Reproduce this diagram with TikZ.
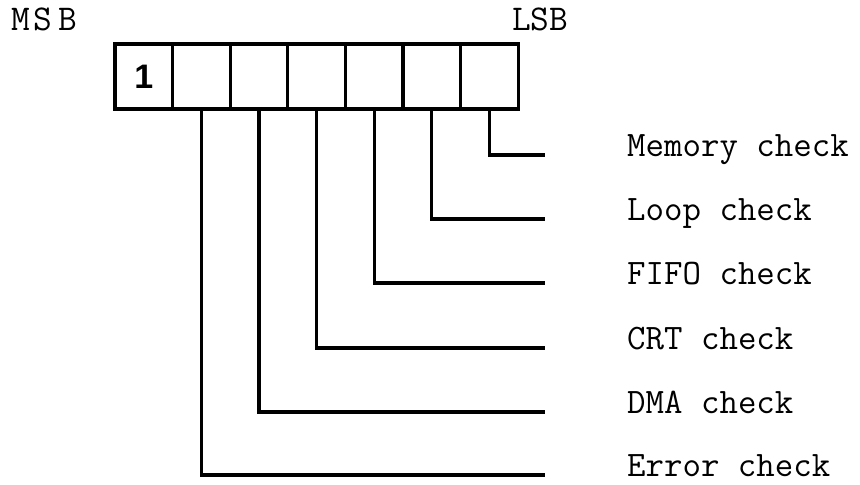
\documentclass[tikz,border=0pt]{standalone}
\usepackage{fontspec}
\newfontfamily\digitfont{Liberation Sans}
\usepackage{tikz}
\usetikzlibrary{positioning}
\tikzset{
  Cell/.style={draw, line width=2.6pt, minimum width=1.728cm, minimum height=1.95cm,
               inner sep=0pt, outer sep=0pt},
  Wire/.style={line width=2.6pt, line join=miter},
  Chk/.style={anchor=base west, inner sep=0pt, font=\ttfamily\fontsize{30.6}{36}\selectfont},
  Bit/.style={anchor=base west, inner sep=0pt, font=\ttfamily\fontsize{31}{36}\selectfont}
}
\begin{document}
\begin{tikzpicture}[x=0.3mm, y=-0.3mm]
  \useasboundingbox (0,0) rectangle (860,484);
  % register
  \node[Cell, font=\digitfont\bfseries\fontsize{29}{32}\selectfont] (b1) at (143.8,76.5) {1};
  \node[Cell] (b2) at (201.4,76.5) {};
  \node[Cell] (b3) at (259.0,76.5) {};
  \node[Cell] (b4) at (316.6,76.5) {};
  \node[Cell] (b5) at (374.2,76.5) {};
  \node[Cell] (b6) at (431.8,76.5) {};
  \node[Cell] (b7) at (489.4,76.5) {};
  \node[Bit] (msb) at (11,30) {M\kern3pt S\kern5pt B};
  \node[Bit] (lsb) at (512,30) {LSB};
  % check names
  \node[Chk] (mem)  at (627,156) {Memory check};
  \node[Chk] (loop) at (627,220) {Loop check};
  \node[Chk] (fifo) at (627,284) {FIFO check};
  \node[Chk] (crt)  at (627,349) {CRT check};
  \node[Chk] (dma)  at (627,413) {DMA check};
  \node[Chk] (err)  at (627,476) {Error check};
  \coordinate (e7) at (545,155);
  \coordinate (e6) at (545,219);
  \coordinate (e5) at (545,283);
  \coordinate (e4) at (545,348);
  \coordinate (e3) at (545,412);
  \coordinate (e2) at (545,475);
  \draw[Wire] (b7.south) |- (e7);
  \draw[Wire] (b6.south) |- (e6);
  \draw[Wire] (b5.south) |- (e5);
  \draw[Wire] (b4.south) |- (e4);
  \draw[Wire] (b3.south) |- (e3);
  \draw[Wire] (b2.south) |- (e2);
\end{tikzpicture}
\end{document}
